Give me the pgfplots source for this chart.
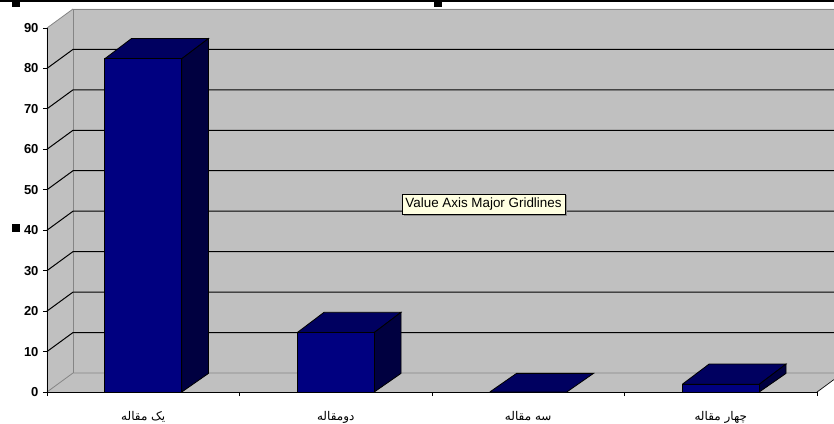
\documentclass[border=0pt]{standalone}
\usepackage{fontspec}
\setmainfont{Liberation Sans}
\newfontfamily\arabicfont[Script=Arabic]{DejaVu Sans}
\TeXXeTstate=1
\usepackage{pgfplots}
\pgfplotsset{compat=1.18}
\definecolor{wall}{HTML}{C0C0C0}
\definecolor{wallline}{HTML}{858585}
\definecolor{barfront}{HTML}{000080}
\definecolor{bartop}{HTML}{000060}
\definecolor{barside}{HTML}{000040}
\definecolor{tipfill}{HTML}{FFFFE1}

\begin{document}
\begin{tikzpicture}[x=1pt,y=1pt]
  \useasboundingbox (-47,-31) rectangle (787,392);

  % walls and floor of the 3D box (1pt = 1 reference pixel)
  \fill[wall] (0,0) -- (26,19) -- (26,383) -- (787,383) -- (787,0) -- cycle;
  \fill[wall] (0,0) -- (26,19) -- (26,383) -- (0,364) -- cycle;
  \draw[wallline,line width=0.8pt] (0,0) -- (26,19) -- (787,19);
  \draw[wallline,line width=0.8pt] (26,19) -- (26,383) -- (787,383);
  \draw[wallline,line width=0.8pt] (0,364) -- (26,383);
  \fill[white] (770,-1) -- (787,12) -- (787,-1) -- cycle;
  \draw[black,line width=0.6pt] (770,0) -- (787,12.5);

  % major gridlines on side wall and back wall
  \foreach \k in {1,...,8}
    \draw[black,line width=1pt] (0,40.45*\k) -- (26,40.45*\k+19) -- (787,40.45*\k+19);

  % page edge and selection handles
  \fill[black] (-47,392) rectangle (787,389.6);
  \fill[black] (-35,392) rectangle (-27,385);
  \fill[black] (387,392) rectangle (395,385);
  \fill[black] (-35,168) rectangle (-27,160);

  \begin{axis}[
    scale only axis,
    width=770pt, height=364pt,
    xmin=-0.5, xmax=3.5,
    ymin=0, ymax=90,
    clip=false,
    axis x line=bottom, axis y line=left,
    axis line style={-,black,line width=0.9pt},
    xtick={0,1,2,3},
    xticklabels={
      {\arabicfont\beginR یک مقاله\endR},
      {\arabicfont\beginR دومقاله\endR},
      {\arabicfont\beginR سه مقاله\endR},
      {\arabicfont\beginR چهار مقاله\endR}},
    minor xtick={-0.5,0.5,1.5,2.5,3.5},
    ytick={0,10,...,90},
    tick align=outside,
    major tick length=4pt, minor tick length=4pt,
    major x tick style={draw=none},
    minor x tick style={black,line width=0.8pt},
    y tick style={black,line width=0.9pt},
    /pgf/number format/assume math mode=true,
    yticklabel style={font=\fontsize{13}{13}\selectfont\bfseries, xshift=-1pt},
    xticklabel style={font=\fontsize{12}{12}\selectfont, anchor=center, text height=8pt, text depth=3pt, yshift=-21.5pt},
  ]
    % tops
    \addplot[fill=bartop,draw=black,line width=0.8pt] coordinates {(-0.2,82.4) (-0.061,87.4) (0.339,87.4) (0.2,82.4) (-0.2,82.4)};
    \addplot[fill=bartop,draw=black,line width=0.8pt] coordinates {(0.8,14.7) (0.939,19.7) (1.339,19.7) (1.2,14.7) (0.8,14.7)};
    \addplot[fill=bartop,draw=black,line width=0.8pt] coordinates {(1.8,0) (1.939,4.6) (2.339,4.6) (2.2,0) (1.8,0)};
    \addplot[fill=bartop,draw=black,line width=0.8pt] coordinates {(2.8,1.9) (2.939,6.9) (3.339,6.9) (3.2,1.9) (2.8,1.9)};
    % sides
    \addplot[fill=barside,draw=black,line width=0.8pt] coordinates {(0.2,0) (0.339,4.6) (0.339,87.4) (0.2,82.4) (0.2,0)};
    \addplot[fill=barside,draw=black,line width=0.8pt] coordinates {(1.2,0) (1.339,4.6) (1.339,19.7) (1.2,14.7) (1.2,0)};
    \addplot[fill=barside,draw=black,line width=0.8pt] coordinates {(3.2,0) (3.339,4.6) (3.339,6.9) (3.2,1.9) (3.2,0)};
    % fronts
    \addplot[ybar,bar width=77pt,bar shift=0pt,fill=barfront,draw=black,line width=0.8pt]
      coordinates {(0,82.4) (1,14.7) (2,0) (3,1.9)};
  \end{axis}

  % tooltip from the spreadsheet window
  \fill[black!45] (356.5,175.5) rectangle (520,197);
  \node[draw=black,line width=0.5pt,fill=tipfill,inner sep=0pt,minimum width=163pt,minimum height=20.5pt,
        font=\fontsize{13.4}{14}\selectfont] at (436.5,187.5) {Value Axis Major Gridlines};
\end{tikzpicture}
\end{document}
